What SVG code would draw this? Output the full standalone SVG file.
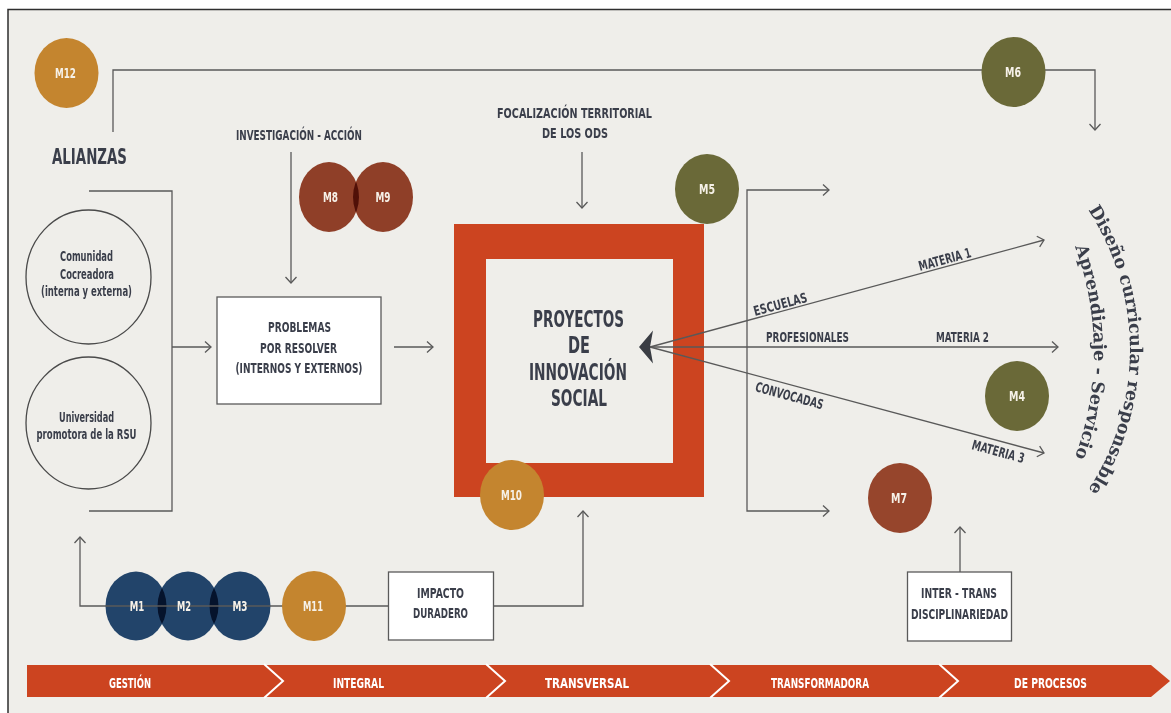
<svg xmlns="http://www.w3.org/2000/svg" width="1171" height="713" viewBox="0 0 1171 713">
<style>
.c{font-family:"DejaVu Sans Condensed","DejaVu Sans","Liberation Sans",sans-serif;font-stretch:condensed;font-weight:bold;fill:#3a3e4a;text-anchor:middle;font-size:13.5px}
.s{text-anchor:start}
.m{fill:#f6f1e8;font-size:13.5px}
.w{fill:#ffffff;font-size:14px}
.big{font-size:23px}
.ln{fill:none;stroke:#595959;stroke-width:1.3}
.box{fill:#ffffff;stroke:#5a5a5a;stroke-width:1.3}
.ring{fill:none;stroke:#4a4a4a;stroke-width:1.3}
.gold{fill:#c4852f}
.olive{fill:#6a6938}
.rust{fill:#8f3f28}
.navy{fill:#22446a}
.mul{mix-blend-mode:multiply}
.serif{font-family:"DejaVu Serif","Liberation Serif",serif;font-weight:bold;font-size:17.5px;fill:#3a3e4a}
</style>
<defs>
<marker id="arr" viewBox="-8 -7 10 14" markerWidth="10" markerHeight="14" refX="0" refY="0" orient="auto" markerUnits="userSpaceOnUse">
<path d="M-6,-5.5 L0,0 L-6,5.5" fill="none" stroke="#595959" stroke-width="1.3"/>
</marker>
<path id="arcOuter" d="M1070,185.4 A256,256 0 0 1 1070,514.6"/>
<path id="arcInner" d="M1039.7,180 A300,300 0 0 1 1039.7,524"/>
</defs>
<rect x="0" y="0" width="1171" height="713" fill="#ffffff"/>
<rect x="8" y="9.5" width="1175" height="720" fill="#efeeea" stroke="#2e2e2e" stroke-width="1.5"/>

<!-- bottom band -->
<g id="band">
<path d="M27,665 H1151 L1170,681 L1151,697 H27 Z" fill="#cc4420"/>
<g fill="none" stroke="#ffffff" stroke-width="2">
<polyline points="264,664 283,681 264,698"/>
<polyline points="486,664 505,681 486,698"/>
<polyline points="710,664 729,681 710,698"/>
<polyline points="939,664 958,681 939,698"/>
</g>
<text class="c w" x="130" y="688" textLength="42" lengthAdjust="spacingAndGlyphs">GESTIÓN</text>
<text class="c w" x="358.5" y="688" textLength="51" lengthAdjust="spacingAndGlyphs">INTEGRAL</text>
<text class="c w" x="587" y="688" textLength="84" lengthAdjust="spacingAndGlyphs">TRANSVERSAL</text>
<text class="c w" x="820" y="688" textLength="98" lengthAdjust="spacingAndGlyphs">TRANSFORMADORA</text>
<text class="c w" x="1050.5" y="688" textLength="73" lengthAdjust="spacingAndGlyphs">DE PROCESOS</text>
</g>

<!-- main project square -->
<g id="proyectos">
<path d="M454,224 H704 V497 H454 Z M486,259 V463 H673 V259 Z" fill="#cc4420" fill-rule="evenodd"/>
<text class="c big" x="578.5" y="327" textLength="91" lengthAdjust="spacingAndGlyphs">PROYECTOS</text>
<text class="c big" x="579" y="353" textLength="22" lengthAdjust="spacingAndGlyphs">DE</text>
<text class="c big" x="578" y="380" textLength="98" lengthAdjust="spacingAndGlyphs">INNOVACIÓN</text>
<text class="c big" x="579" y="406" textLength="56" lengthAdjust="spacingAndGlyphs">SOCIAL</text>
</g>

<!-- M1-M3 under the connector line -->
<g style="isolation:isolate">
<g id="m1"><ellipse class="navy mul" cx="136" cy="606" rx="30.5" ry="34.5"/></g>
<g id="m2"><ellipse class="navy mul" cx="188" cy="606" rx="30.5" ry="34.5"/></g>
<g id="m3"><ellipse class="navy mul" cx="240" cy="606" rx="30.5" ry="34.5"/></g>
</g>

<!-- connectors -->
<g id="connectors">
<path class="ln" d="M113,132 V70 H1095 V130" marker-end="url(#arr)"/>
<path class="ln" d="M89,191 H172 V511 H89"/>
<path class="ln" d="M172,347 H211" marker-end="url(#arr)"/>
<path class="ln" d="M291,152 V283" marker-end="url(#arr)"/>
<path class="ln" d="M394,347 H433" marker-end="url(#arr)"/>
<path class="ln" d="M582,152 V208" marker-end="url(#arr)"/>
<path class="ln" d="M747,350 V190 H829" marker-end="url(#arr)"/>
<path class="ln" d="M747,350 V511 H829" marker-end="url(#arr)"/>
<path class="ln" d="M650,347 L1044,240" marker-end="url(#arr)"/>
<path class="ln" d="M650,347 H1058" marker-end="url(#arr)"/>
<path class="ln" d="M650,347 L1044,453" marker-end="url(#arr)"/>
<polygon points="639,347 653,330.5 650,347 653,363.5" fill="#3a3d44"/>
<path class="ln" d="M388,606 H80 V537" marker-end="url(#arr)"/>
<path class="ln" d="M494,606 H583 V511" marker-end="url(#arr)"/>
<path class="ln" d="M960,572 V527" marker-end="url(#arr)"/>
<text class="c s" x="755" y="316" transform="rotate(-15.2 755 316)" textLength="55" lengthAdjust="spacingAndGlyphs">ESCUELAS</text>
<text class="c s" x="920" y="271" transform="rotate(-15.2 920 271)" textLength="54" lengthAdjust="spacingAndGlyphs">MATERIA 1</text>
<text class="c s" x="766" y="342" textLength="83" lengthAdjust="spacingAndGlyphs">PROFESIONALES</text>
<text class="c s" x="936" y="342" textLength="53" lengthAdjust="spacingAndGlyphs">MATERIA 2</text>
<text class="c s" x="754.5" y="391" transform="rotate(15.2 754.5 391)" textLength="70" lengthAdjust="spacingAndGlyphs">CONVOCADAS</text>
<text class="c s" x="971" y="449" transform="rotate(15.2 971 449)" textLength="54" lengthAdjust="spacingAndGlyphs">MATERIA 3</text>
</g>

<!-- M1-M3 labels -->
<g id="m123labels">
<text class="c m" x="137" y="611" textLength="14.5" lengthAdjust="spacingAndGlyphs">M1</text>
<text class="c m" x="184" y="611" textLength="14" lengthAdjust="spacingAndGlyphs">M2</text>
<text class="c m" x="240" y="611" textLength="15" lengthAdjust="spacingAndGlyphs">M3</text>
</g>

<g id="alianzas"><text class="c s" x="52" y="164" style="font-size:22px" textLength="75" lengthAdjust="spacingAndGlyphs">ALIANZAS</text></g>

<g id="comunidad">
<ellipse class="ring" cx="88.5" cy="277" rx="62.5" ry="67"/>
<text class="c" x="86.5" y="261" textLength="53" lengthAdjust="spacingAndGlyphs">Comunidad</text>
<text class="c" x="87" y="279" textLength="54" lengthAdjust="spacingAndGlyphs">Cocreadora</text>
<text class="c" x="86.5" y="296" textLength="91" lengthAdjust="spacingAndGlyphs">(interna y externa)</text>
</g>
<g id="universidad">
<ellipse class="ring" cx="88.5" cy="423" rx="62.5" ry="66"/>
<text class="c" x="86.5" y="421.5" textLength="55" lengthAdjust="spacingAndGlyphs">Universidad</text>
<text class="c" x="86.5" y="439" textLength="100" lengthAdjust="spacingAndGlyphs">promotora de la RSU</text>
</g>

<g id="problemas">
<rect class="box" x="217" y="297" width="164" height="107"/>
<text class="c" x="299.5" y="332" textLength="63" lengthAdjust="spacingAndGlyphs">PROBLEMAS</text>
<text class="c" x="298.5" y="352.5" textLength="77" lengthAdjust="spacingAndGlyphs">POR RESOLVER</text>
<text class="c" x="299" y="373" textLength="127" lengthAdjust="spacingAndGlyphs">(INTERNOS Y EXTERNOS)</text>
</g>

<g id="investigacion"><text class="c" x="299" y="140" textLength="126" lengthAdjust="spacingAndGlyphs">INVESTIGACIÓN - ACCIÓN</text></g>

<g id="focalizacion">
<text class="c" x="574.5" y="117.5" textLength="155" lengthAdjust="spacingAndGlyphs">FOCALIZACIÓN TERRITORIAL</text>
<text class="c" x="575" y="138" textLength="66" lengthAdjust="spacingAndGlyphs">DE LOS ODS</text>
</g>

<g id="impacto">
<rect class="box" x="388.5" y="572" width="105" height="68"/>
<text class="c" x="440.5" y="598" textLength="47" lengthAdjust="spacingAndGlyphs">IMPACTO</text>
<text class="c" x="440.5" y="618" textLength="55" lengthAdjust="spacingAndGlyphs">DURADERO</text>
</g>

<g id="intertrans">
<rect class="box" x="907.5" y="572" width="104" height="69"/>
<text class="c" x="959" y="598" textLength="76" lengthAdjust="spacingAndGlyphs">INTER - TRANS</text>
<text class="c" x="959.5" y="619" textLength="97" lengthAdjust="spacingAndGlyphs">DISCIPLINARIEDAD</text>
</g>

<g id="m12"><ellipse class="gold" cx="66.5" cy="73" rx="32" ry="35"/><text class="c m" x="65.5" y="78" textLength="21" lengthAdjust="spacingAndGlyphs">M12</text></g>
<g id="m6"><ellipse class="olive" cx="1013.5" cy="72" rx="32" ry="35"/><text class="c m" x="1013" y="77" textLength="16" lengthAdjust="spacingAndGlyphs">M6</text></g>
<g style="isolation:isolate">
<g id="m8"><ellipse class="rust mul" cx="329" cy="197" rx="30" ry="35"/></g>
<g id="m9"><ellipse class="rust mul" cx="383" cy="197" rx="30" ry="35"/></g>
</g>
<g id="m8m9labels">
<text class="c m" x="330.5" y="202" textLength="15" lengthAdjust="spacingAndGlyphs">M8</text>
<text class="c m" x="383" y="202" textLength="15" lengthAdjust="spacingAndGlyphs">M9</text>
</g>
<g id="m5"><ellipse class="olive" cx="707" cy="189" rx="32" ry="35"/><text class="c m" x="707" y="194" textLength="16" lengthAdjust="spacingAndGlyphs">M5</text></g>
<g id="m10"><ellipse class="gold" cx="512" cy="495" rx="32" ry="35"/><text class="c m" x="511.5" y="500" textLength="21" lengthAdjust="spacingAndGlyphs">M10</text></g>
<g id="m11"><ellipse class="gold" cx="314" cy="606" rx="32" ry="35"/><text class="c m" x="313" y="611" textLength="20" lengthAdjust="spacingAndGlyphs">M11</text></g>
<g id="m4"><ellipse class="olive" cx="1017" cy="396" rx="32" ry="35"/><text class="c m" x="1017" y="401" textLength="16" lengthAdjust="spacingAndGlyphs">M4</text></g>
<g id="m7"><ellipse fill="#96452c" cx="900" cy="498" rx="32" ry="35"/><text class="c m" x="899" y="503" textLength="16" lengthAdjust="spacingAndGlyphs">M7</text></g>

<g id="diseno">
<text class="serif"><textPath href="#arcOuter" startOffset="50%" text-anchor="middle">Diseño curricular responsable</textPath></text>
<text class="serif"><textPath href="#arcInner" startOffset="50%" text-anchor="middle">Aprendizaje - Servicio</textPath></text>
</g>
</svg>
